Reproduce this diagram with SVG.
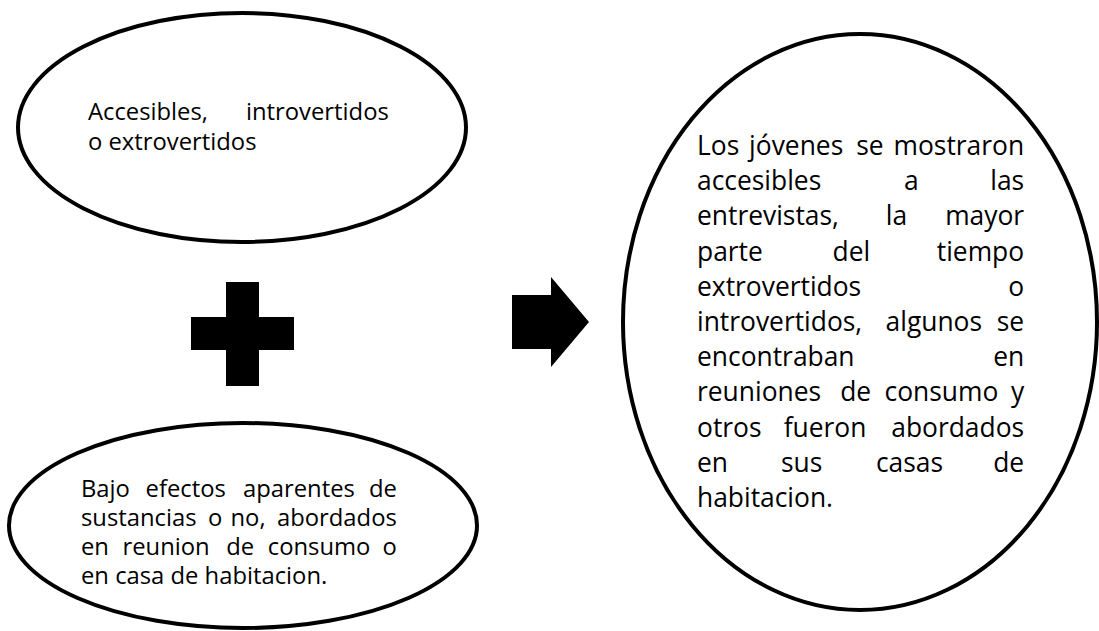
<svg xmlns="http://www.w3.org/2000/svg" width="1099" height="631" viewBox="0 0 1099 631">
  <style>
    .shape { fill: #ffffff; stroke: #000000; stroke-width: 4; }
    .sym { fill: #000000; stroke: none; }
    .txt { font-family: "Open Sans", "Liberation Sans", sans-serif; fill: #000000; }
    .small { font-size: 23.8px; }
    .big { font-size: 26.4px; }
    .e { text-anchor: end; }
  </style>
  <rect x="0" y="0" width="1099" height="631" fill="#ffffff"/>

  <g id="node-top">
    <ellipse class="shape" cx="242" cy="127.5" rx="224" ry="114.5"/>
    <text class="txt small">
      <tspan x="88" y="120">Accesibles,</tspan><tspan class="e" x="395" y="120">introvertidos</tspan>
      <tspan x="88" y="150">o extrovertidos</tspan>
    </text>
  </g>

  <g id="node-bottom">
    <ellipse class="shape" cx="243" cy="525.5" rx="234" ry="102.5"/>
    <text class="txt small">
      <tspan x="81" y="497">Bajo</tspan><tspan x="145.6" y="497">efectos</tspan><tspan x="243" y="497">aparentes</tspan><tspan class="e" x="403" y="497">de</tspan>
      <tspan x="81" y="526">sustancias</tspan><tspan x="208" y="526">o</tspan><tspan x="230.5" y="526">no,</tspan><tspan class="e" x="403" y="526">abordados</tspan>
      <tspan x="81" y="555">en</tspan><tspan x="122.5" y="555">reunion</tspan><tspan x="226.3" y="555">de</tspan><tspan x="267.8" y="555">consumo</tspan><tspan class="e" x="403" y="555">o</tspan>
      <tspan x="81" y="584">en casa de habitacion.</tspan>
    </text>
  </g>

  <g id="node-result">
    <ellipse class="shape" cx="860" cy="322" rx="237" ry="288"/>
    <text class="txt big">
      <tspan x="697" y="155">Los</tspan><tspan x="749.1" y="155">jóvenes</tspan><tspan x="856.2" y="155">se</tspan><tspan class="e" x="1031" y="155">mostraron</tspan>
      <tspan x="697" y="190">accesibles</tspan><tspan x="904.1" y="190">a</tspan><tspan class="e" x="1031" y="190">las</tspan>
      <tspan x="697" y="225">entrevistas,</tspan><tspan x="885.8" y="225">la</tspan><tspan class="e" x="1031" y="225">mayor</tspan>
      <tspan x="697" y="261">parte</tspan><tspan x="832.5" y="261">del</tspan><tspan class="e" x="1031" y="261">tiempo</tspan>
      <tspan x="697" y="296">extrovertidos</tspan><tspan class="e" x="1031" y="296">o</tspan>
      <tspan x="697" y="331">introvertidos,</tspan><tspan x="885.6" y="331">algunos</tspan><tspan class="e" x="1031" y="331">se</tspan>
      <tspan x="697" y="366">encontraban</tspan><tspan class="e" x="1031" y="366">en</tspan>
      <tspan x="697" y="401">reuniones</tspan><tspan x="840.2" y="401">de</tspan><tspan x="884.6" y="401">consumo</tspan><tspan class="e" x="1031" y="401">y</tspan>
      <tspan x="697" y="437">otros</tspan><tspan x="783.7" y="437">fueron</tspan><tspan class="e" x="1031" y="437">abordados</tspan>
      <tspan x="697" y="472">en</tspan><tspan x="781" y="472">sus</tspan><tspan x="875.9" y="472">casas</tspan><tspan class="e" x="1031" y="472">de</tspan>
      <tspan x="697" y="507">habitacion.</tspan>
    </text>
  </g>

  <g id="connectors">
    <polygon id="plus" class="sym" points="226,282 259,282 259,317 294,317 294,350 259,350 259,386 226,386 226,350 191,350 191,317 226,317"/>
    <polygon id="arrow" class="sym" points="512,295 551,295 551,277 589,322 551,367 551,349 512,349"/>
  </g>
</svg>
